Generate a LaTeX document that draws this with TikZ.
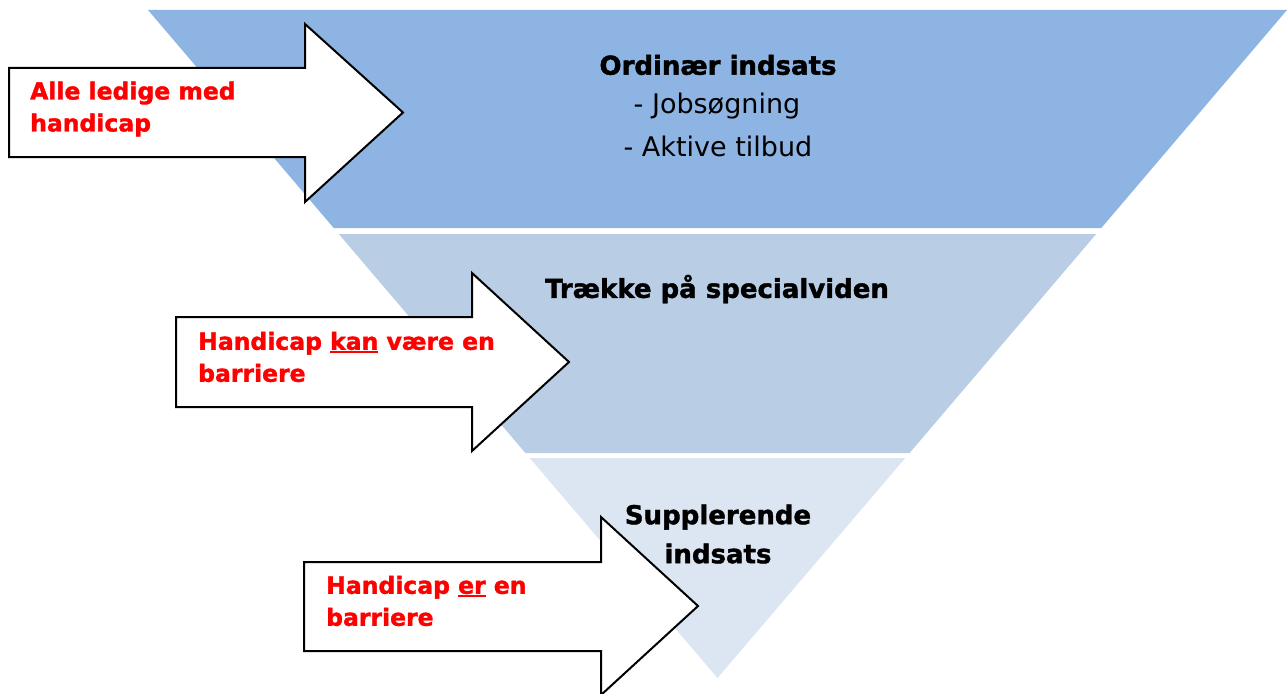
\documentclass[tikz,border=0pt]{standalone}
\usepackage{fontspec}
\setmainfont{DejaVu Sans}[BoldFeatures={FakeBold=1.5}]
\definecolor{bandA}{HTML}{8EB4E3}
\definecolor{bandB}{HTML}{B9CDE5}
\definecolor{bandC}{HTML}{DCE6F2}
\definecolor{redtxt}{HTML}{FF0000}
\newcommand\myuline[1]{\setbox0\hbox{#1}\rlap{\rule[-3.5pt]{\wd0}{2pt}}\box0\relax}
\tikzset{
  band/.style={draw=none},
  bigarrow/.style={draw=black, fill=white, line width=2pt, line join=miter},
  redlabel/.style={text=redtxt, font=\fontsize{23.5}{32}\selectfont\bfseries, align=left, anchor=west, inner sep=0pt},
  titlelabel/.style={text=black, font=\fontsize{26}{39}\selectfont\bfseries, align=center, inner sep=0pt},
  itemlabel/.style={text=black, font=\fontsize{27}{40}\selectfont, align=center, inner sep=0pt}
}
\begin{document}
\begin{tikzpicture}[x=1pt,y=-1pt]
\useasboundingbox (0,0) rectangle (1287,693);
\clip (0,0) rectangle (1287,693);
% funnel bands
\fill[bandA, band] (148,10) -- (1287,10) -- (1101.3,228) -- (333.7,228) -- cycle;
\fill[bandB, band] (338.8,234) -- (1096.2,234) -- (909.6,453) -- (525.4,453) -- cycle;
\fill[bandC, band] (529.7,458) -- (905.3,458) -- (717.5,678) -- cycle;
% band texts
\node[titlelabel] (t1) at (718,65) {Ordinær indsats};
\node[itemlabel] (t1a) at (717,106) {- Jobsøgning};
\node[itemlabel] (t1b) at (718,146) {- Aktive tilbud};
\node[titlelabel] (t2) at (717,289) {Trække på specialviden};
\node[titlelabel] (t3) at (718,534) {Supplerende\\indsats};
% arrows
\draw[bigarrow] (9,68) -- (305,68) -- (305,24) -- (403,112.5) -- (305,202) -- (305,157) -- (9,157) -- cycle;
\draw[bigarrow] (176,317) -- (472,317) -- (472,273) -- (569,362) -- (472,451) -- (472,407) -- (176,407) -- cycle;
\draw[bigarrow] (304,562) -- (601,562) -- (601,517) -- (698,606) -- (601,695) -- (601,651) -- (304,651) -- cycle;
% arrow texts
\node[redlabel] (a1) at (30,109) {Alle ledige med\\handicap};
\node[redlabel] (a2) at (198,357) {Handicap \myuline{kan} være en\\barriere};
\node[redlabel] (a3) at (326,601) {Handicap \myuline{er} en\\barriere};
\end{tikzpicture}
\end{document}
